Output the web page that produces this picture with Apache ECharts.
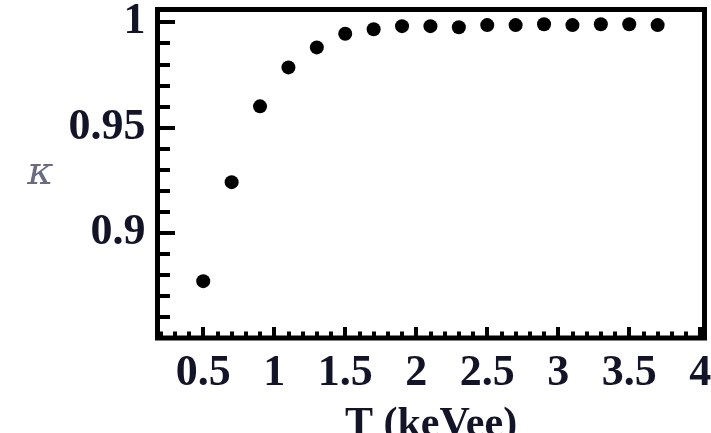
<!DOCTYPE html>
<html>
<head>
<meta charset="utf-8">
<script src="https://cdn.jsdelivr.net/npm/echarts@6/dist/echarts.min.js"></script>
<style>
  html, body { margin: 0; padding: 0; background: #fff; }
  #chart { width: 711px; height: 433px; }
</style>
</head>
<body>
<div id="chart"></div>
<script>
// Measured kappa against recoil energy T (keVee)
const energy = [0.5, 0.7, 0.9, 1.1, 1.3, 1.5, 1.7, 1.9, 2.1, 2.3, 2.5, 2.7, 2.9, 3.1, 3.3, 3.5, 3.7];
const kappa = [0.877, 0.924, 0.960, 0.9785, 0.988, 0.9945, 0.9966, 0.9981, 0.9981, 0.9976, 0.9986, 0.9986, 0.999, 0.9986, 0.999, 0.999, 0.9986];

// Tick positions and labels
const xMajorTicks = [0.5, 1, 1.5, 2, 2.5, 3, 3.5, 4];
const xMinorTicks = [0.2, 0.3, 0.4, 0.6, 0.7, 0.8, 0.9, 1.1, 1.2, 1.3, 1.4, 1.6, 1.7, 1.8, 1.9,
                     2.1, 2.2, 2.3, 2.4, 2.6, 2.7, 2.8, 2.9, 3.1, 3.2, 3.3, 3.4, 3.6, 3.7, 3.8, 3.9];
const yMajorTicks = [0.9, 0.95, 1];
const yMinorTicks = [0.86, 0.87, 0.88, 0.89, 0.91, 0.92, 0.93, 0.94, 0.96, 0.97, 0.98, 0.99];

const X_MIN = 0.178, X_MAX = 4.03;
const Y_MIN = 0.85, Y_MAX = 1.006;

const labelFont = {
  fontFamily: 'Liberation Serif',
  fontWeight: 'bold',
  fontSize: 44,
  color: '#141428'
};

function tickAxis(base, ticks, len, showLabels, labelOpts) {
  return Object.assign({
    type: 'value',
    gridIndex: 0,
    axisLine: { show: false },
    splitLine: { show: false },
    axisTick: {
      show: true, inside: true, length: len, customValues: ticks,
      lineStyle: { color: '#000', width: 4 }
    },
    axisLabel: showLabels
      ? Object.assign({ customValues: ticks }, labelFont, labelOpts)
      : { show: false }
  }, base);
}

const chart = echarts.init(document.getElementById('chart'), null, { renderer: 'canvas' });

chart.setOption({
  animation: false,
  backgroundColor: '#fff',
  grid: {
    left: 157.5, top: 9.5, right: 6.5, bottom: 95,
    outerBoundsMode: 'none',
    containLabel: false,
    show: true,
    borderColor: '#000',
    borderWidth: 5,
    backgroundColor: 'transparent'
  },
  xAxis: [
    tickAxis({
      min: X_MIN, max: X_MAX, position: 'bottom',
      name: 'T (keVee)',
      nameLocation: 'middle',
      nameGap: 66,
      nameTextStyle: {
        fontFamily: 'Liberation Serif', fontWeight: 'bold', fontSize: 42, color: '#141428'
      }
    }, xMajorTicks, 11, true, { margin: 14 }),
    tickAxis({ min: X_MIN, max: X_MAX, position: 'bottom' }, xMinorTicks, 6.5, false)
  ],
  yAxis: [
    tickAxis({
      min: Y_MIN, max: Y_MAX, position: 'left',
      name: 'κ',
      nameLocation: 'middle',
      nameRotate: 0,
      nameGap: 104,
      nameTextStyle: {
        fontFamily: 'DejaVu Serif', fontStyle: 'italic', fontSize: 40, color: '#6a6a80'
      }
    }, yMajorTicks, 17.5, true, { margin: 12 }),
    tickAxis({ min: Y_MIN, max: Y_MAX, position: 'left' }, yMinorTicks, 12.5, false)
  ],
  series: [{
    type: 'scatter',
    xAxisIndex: 0,
    yAxisIndex: 0,
    symbol: 'circle',
    symbolSize: 14,
    itemStyle: { color: '#000', opacity: 1 },
    data: energy.map((t, i) => [t, kappa[i]])
  }]
});
</script>
</body>
</html>
